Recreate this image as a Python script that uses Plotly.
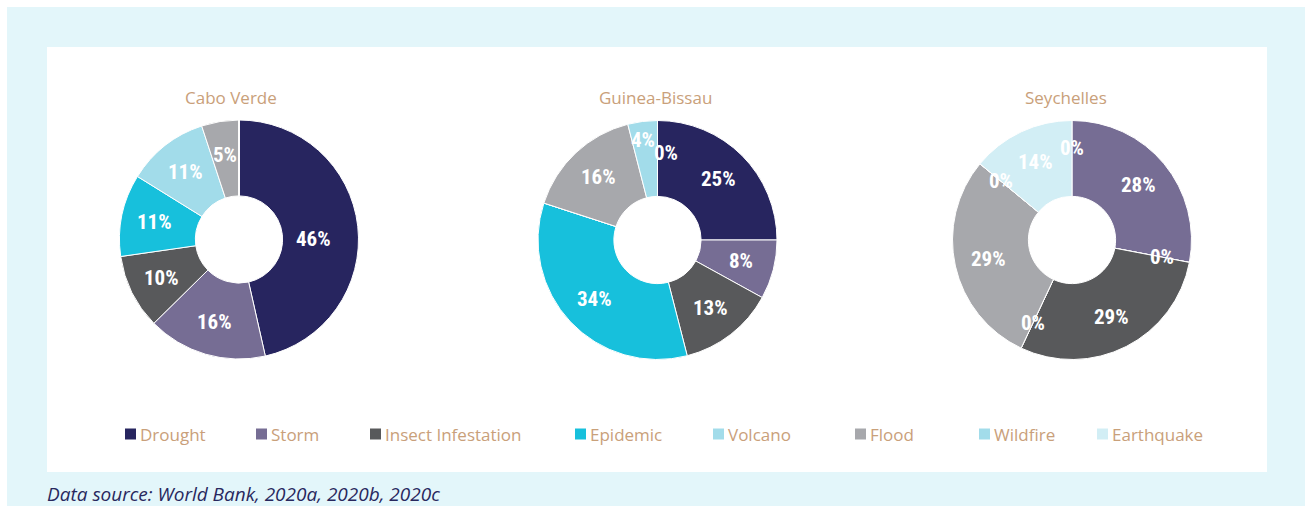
import math
import plotly.graph_objects as go

# ---------------- data ----------------
hazards = ["Drought", "Storm", "Insect Infestation", "Epidemic",
           "Volcano", "Flood", "Wildfire", "Earthquake"]

cabo_labels = ["Drought", "Storm", "Insect Infestation", "Epidemic",
               "Volcano", "Flood", "Wildfire", "Earthquake"]
cabo_values = [46, 16, 10, 11, 11, 5, 0, 0]

guinea_labels = ["Drought", "Storm", "Insect Infestation", "Epidemic",
                 "Volcano", "Flood", "Wildfire", "Earthquake"]
guinea_values = [25, 8, 13, 34, 0, 16, 4, 0]

seychelles_labels = ["Drought", "Storm", "Epidemic", "Insect Infestation",
                     "Volcano", "Flood", "Wildfire", "Earthquake"]
seychelles_values = [0, 28, 0, 29, 0, 29, 0, 14]

countries = ["Cabo Verde", "Guinea-Bissau", "Seychelles"]
source_text = "Data source: World Bank, 2020a, 2020b, 2020c"

# zero-valued slices whose "0%" label is printed
zero_labels_shown = [[], ["Earthquake"],
                     ["Drought", "Epidemic", "Volcano", "Wildfire"]]

# ---------------- styles / layout ----------------
colors = {
    "Drought": "#27255F",
    "Storm": "#766D94",
    "Insect Infestation": "#58595B",
    "Epidemic": "#17C0DC",
    "Volcano": "#A2DCEA",
    "Flood": "#A7A8AC",
    "Wildfire": "#A2DCEA",
    "Earthquake": "#D2EEF5",
}
W, H = 1305, 506
TAN = "#C9A07A"
NAVY = "#28285E"
pie_centers = [(239, 239.5), (657.5, 240), (1072, 240)]
R = 119.5
HOLE = 0.365
title_pos = [(231, 97), (656, 97), (1066, 97)]
legend_marker_x = [125, 256, 370, 575, 713, 855, 979, 1097]
legend_y = 434
label_nudges = {(0, "Drought"): (-11, 9),
                (1, "Wildfire"): (-4, -15),
                (1, "Earthquake"): (8, 5)}
PCT_FONT = "Liberation Sans Narrow, Roboto Condensed, DejaVu Sans Condensed, Open Sans"


def px(x):
    return x / W


def py(y):
    return 1 - y / H


fig = go.Figure()
annotations = []
shapes = [
    dict(type="rect", xref="paper", yref="paper", x0=px(7), x1=px(W), y0=py(H), y1=py(7),
         fillcolor="#E3F6FA", line=dict(width=0), layer="below"),
    dict(type="rect", xref="paper", yref="paper", x0=px(47), x1=px(1267), y0=py(472), y1=py(47),
         fillcolor="#FFFFFF", line=dict(width=0), layer="below"),
]

series = [(cabo_labels, cabo_values), (guinea_labels, guinea_values),
          (seychelles_labels, seychelles_values)]

for i, (labels, values) in enumerate(series):
    cx, cy = pie_centers[i]
    fig.add_trace(go.Pie(
        labels=labels, values=values, name=countries[i],
        hole=HOLE, sort=False, direction="clockwise", rotation=0,
        marker=dict(colors=[colors[l] for l in labels], line=dict(color="white", width=1)),
        textinfo="none", hoverinfo="label+percent", showlegend=False,
        domain=dict(x=[px(cx - R), px(cx + R)], y=[py(cy + R), py(cy - R)]),
    ))
    total = sum(values)
    cum = 0
    for lab, v in zip(labels, values):
        show = v > 0 or lab in zero_labels_shown[i]
        mid = (cum + v / 2) / total * 2 * math.pi
        cum += v
        if not show:
            continue
        r = 86 if v > 0 else 92
        dx, dy = label_nudges.get((i, lab), (0, 0))
        x = cx + r * math.sin(mid) + dx
        y = cy - r * math.cos(mid) + dy
        annotations.append(dict(
            x=px(x), y=py(y), xref="paper", yref="paper", showarrow=False,
            text=f"{v}%",
            font=dict(family=PCT_FONT, size=21, color="white", weight="bold"),
            xanchor="center", yanchor="middle"))
    tx, ty = title_pos[i]
    annotations.append(dict(
        x=px(tx), y=py(ty), xref="paper", yref="paper", showarrow=False,
        text=countries[i], font=dict(family="Open Sans", size=17, color=TAN),
        xanchor="center", yanchor="middle"))

# custom legend
for lab, mx in zip(hazards, legend_marker_x):
    shapes.append(dict(type="rect", xref="paper", yref="paper",
                       x0=px(mx), x1=px(mx + 11), y0=py(legend_y + 5.5), y1=py(legend_y - 5.5),
                       fillcolor=colors[lab], line=dict(width=0)))
    annotations.append(dict(
        x=px(mx + 13), y=py(legend_y), xref="paper", yref="paper", showarrow=False,
        text=lab, font=dict(family="Open Sans", size=17, color=TAN),
        xanchor="left", yanchor="middle"))

annotations.append(dict(
    x=px(45), y=py(494), xref="paper", yref="paper", showarrow=False,
    text=f"<i>{source_text}</i>", font=dict(family="Open Sans", size=19, color=NAVY),
    xanchor="left", yanchor="middle"))

fig.update_layout(
    width=W, height=H, autosize=False,
    margin=dict(l=0, r=0, t=0, b=0),
    paper_bgcolor="white", plot_bgcolor="white",
    showlegend=False, shapes=shapes, annotations=annotations,
)

fig.write_html("out.html")
